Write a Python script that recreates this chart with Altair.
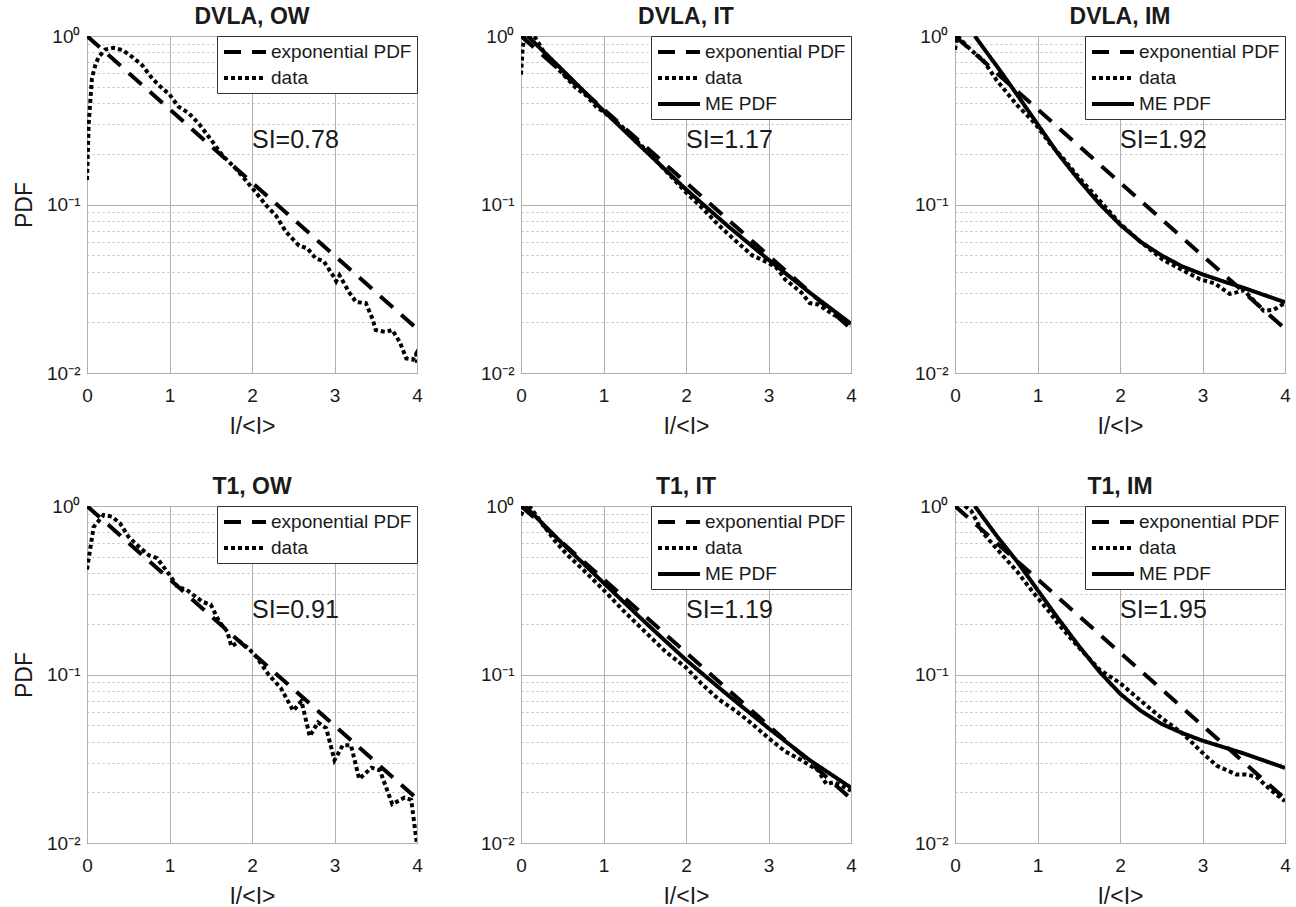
import altair as alt
import pandas as pd

FONT = "Liberation Sans"
EXP, DATA, ME = "exponential PDF", "data", "ME PDF"

# exponential reference curve (same in every panel)
exp_x = [0, 1, 2, 3, 4]
exp_y = [1.0, 0.368, 0.135, 0.0498, 0.0183]

# ---- DVLA, OW ----
dvla_ow_x = [0, 0.02, 0.06, 0.10, 0.14, 0.22, 0.32, 0.43, 0.55, 0.67, 0.79, 0.91, 1.0, 1.11,
             1.23, 1.36, 1.52, 1.64, 1.80, 1.92, 2.04, 2.17, 2.29, 2.41, 2.57, 2.67, 2.77,
             2.87, 2.98, 3.02, 3.06, 3.18, 3.26, 3.38, 3.46, 3.50, 3.62, 3.70, 3.79, 3.87,
             3.95, 3.99, 4.0]
dvla_ow_y = [0.14, 0.30, 0.56, 0.67, 0.75, 0.83, 0.85, 0.826, 0.75, 0.67, 0.56, 0.49, 0.45, 0.38,
             0.35, 0.30, 0.236, 0.196, 0.164, 0.14, 0.119, 0.099, 0.086, 0.069, 0.057, 0.055, 0.048,
             0.046, 0.038, 0.035, 0.038, 0.030, 0.0264, 0.026, 0.021, 0.018, 0.0175, 0.018, 0.0153, 0.0122,
             0.012, 0.013, 0.0115]

# ---- DVLA, IT ----
dvla_it_x = [0, 0.02, 0.04, 0.08, 0.12, 0.16, 0.2, 0.32, 0.5, 0.67, 0.8, 0.91, 1.0, 1.19, 1.4,
             1.6, 1.8, 2.0, 2.2, 2.4, 2.6, 2.8, 3.0, 3.1, 3.2, 3.4, 3.5, 3.6, 3.8, 3.9, 4.0]
dvla_it_y = [0.59, 0.85, 0.97, 1.0, 0.97, 1.0, 0.93, 0.74, 0.60, 0.49, 0.44, 0.38, 0.355, 0.30, 0.24,
             0.19, 0.15, 0.118, 0.095, 0.075, 0.061, 0.050, 0.045, 0.042, 0.036, 0.030, 0.026, 0.0255,
             0.022, 0.021, 0.019]
dvla_it_me_x = [0.08, 0.5, 1.0, 1.5, 2.0, 2.5, 3.0, 3.5, 4.0]
dvla_it_me_y = [1.0, 0.63, 0.36, 0.21, 0.123, 0.075, 0.047, 0.030, 0.0196]

# ---- DVLA, IM ----
dvla_im_x = [0, 0.03, 0.1, 0.2, 0.34, 0.5, 0.63, 0.75, 0.91, 1.0, 1.15, 1.31, 1.5, 1.75, 2.0,
             2.25, 2.52, 2.75, 2.97, 3.15, 3.33, 3.4, 3.5, 3.62, 3.74, 3.86, 3.98, 4.0]
dvla_im_y = [0.83, 1.0, 0.92, 0.82, 0.72, 0.55, 0.46, 0.39, 0.325, 0.29, 0.23, 0.188, 0.145, 0.106,
             0.077, 0.060, 0.047, 0.041, 0.036, 0.034, 0.0295, 0.030, 0.031, 0.027, 0.0234, 0.0237,
             0.0257, 0.026]
dvla_im_me_x = [0.24, 0.4, 0.55, 0.75, 1.0, 1.25, 1.5, 1.75, 2.0, 2.25, 2.5, 2.75, 3.0, 3.25,
                3.5, 3.75, 4.0]
dvla_im_me_y = [1.0, 0.78, 0.62, 0.45, 0.30, 0.20, 0.14, 0.101, 0.076, 0.060, 0.050, 0.043,
                0.0385, 0.035, 0.032, 0.029, 0.0263]

# ---- T1, OW ----
t1_ow_x = [0, 0.08, 0.2, 0.3, 0.4, 0.5, 0.6, 0.75, 0.85, 1.0, 1.1, 1.2, 1.4, 1.5, 1.6, 1.7, 1.75,
           1.85, 1.95, 2.05, 2.2, 2.35, 2.5, 2.6, 2.7, 2.8, 2.9, 3.0, 3.1, 3.2, 3.3, 3.45, 3.55,
           3.7, 3.85, 3.93, 4.0]
t1_ow_y = [0.42, 0.75, 0.885, 0.865, 0.79, 0.66, 0.59, 0.51, 0.49, 0.39, 0.33, 0.32, 0.27, 0.26,
           0.207, 0.18, 0.147, 0.157, 0.144, 0.128, 0.10, 0.083, 0.061, 0.0695, 0.043, 0.052, 0.048,
           0.031, 0.038, 0.038, 0.024, 0.028, 0.027, 0.017, 0.0186, 0.018, 0.0098]

# ---- T1, IT ----
t1_it_x = [0, 0.05, 0.1, 0.2, 0.4, 0.55, 0.75, 1.0, 1.25, 1.5, 1.75, 2.0, 2.2, 2.4, 2.6, 2.8,
           3.0, 3.2, 3.4, 3.6, 3.7, 3.8, 4.0]
t1_it_y = [0.88, 1.0, 1.0, 0.86, 0.63, 0.52, 0.42, 0.318, 0.237, 0.18, 0.137, 0.11, 0.087, 0.071,
           0.061, 0.051, 0.042, 0.035, 0.031, 0.027, 0.0224, 0.023, 0.0204]
t1_it_me_x = [0.05, 0.5, 1.0, 1.5, 2.0, 2.5, 3.0, 3.5, 4.0]
t1_it_me_y = [1.0, 0.60, 0.35, 0.205, 0.122, 0.076, 0.048, 0.031, 0.0213]

# ---- T1, IM ----
t1_im_x = [0.12, 0.2, 0.34, 0.55, 0.75, 0.95, 1.15, 1.25, 1.5, 1.75, 2.0, 2.25, 2.5, 2.75, 2.85,
           2.97, 3.17, 3.41, 3.53, 3.65, 3.81, 3.98, 4.0]
t1_im_y = [1.0, 0.93, 0.69, 0.527, 0.41, 0.306, 0.233, 0.20, 0.145, 0.107, 0.089, 0.070, 0.0554,
           0.045, 0.0405, 0.0354, 0.0288, 0.0255, 0.0255, 0.0248, 0.021, 0.018, 0.0178]
t1_im_me_x = [0.24, 0.5, 0.75, 1.0, 1.25, 1.5, 1.75, 2.0, 2.25, 2.5, 2.75, 3.0, 3.5, 4.0]
t1_im_me_y = [1.0, 0.67, 0.47, 0.318, 0.215, 0.148, 0.104, 0.077, 0.061, 0.051, 0.045, 0.0405,
              0.034, 0.0279]

panel_specs = [
    ("DVLA, OW", "SI=0.78", dvla_ow_x, dvla_ow_y, None, None),
    ("DVLA, IT", "SI=1.17", dvla_it_x, dvla_it_y, dvla_it_me_x, dvla_it_me_y),
    ("DVLA, IM", "SI=1.92", dvla_im_x, dvla_im_y, dvla_im_me_x, dvla_im_me_y),
    ("T1, OW", "SI=0.91", t1_ow_x, t1_ow_y, None, None),
    ("T1, IT", "SI=1.19", t1_it_x, t1_it_y, t1_it_me_x, t1_it_me_y),
    ("T1, IM", "SI=1.95", t1_im_x, t1_im_y, t1_im_me_x, t1_im_me_y),
]

# log-axis tick positions: decades get labels and solid grid, the rest dotted grid
y_ticks = [0.01, 0.02, 0.03, 0.04, 0.05, 0.06, 0.07, 0.08, 0.09,
           0.1, 0.2, 0.3, 0.4, 0.5, 0.6, 0.7, 0.8, 0.9, 1.0]
x_ticks = [0, 1, 2, 3, 4]

DASHES = {EXP: [17, 11], DATA: [4, 3], ME: [1, 0]}
decade_test = "datum.value == 1 || datum.value == 0.1 || datum.value == 0.01"
X_SCALE = alt.Scale(domain=[0, 4], nice=False)
Y_SCALE = alt.Scale(type="log", domain=[0.01, 1], nice=False)


def make_panel(title, si, dx, dy, mx, my, first_col):
    rows = [{"series": EXP, "x": a, "y": b} for a, b in zip(exp_x, exp_y)]
    rows += [{"series": DATA, "x": a, "y": b} for a, b in zip(dx, dy)]
    domain = [EXP, DATA]
    if mx is not None:
        rows += [{"series": ME, "x": a, "y": b} for a, b in zip(mx, my)]
        domain.append(ME)
    df = pd.DataFrame(rows)

    x_axis = alt.Axis(
        values=x_ticks, title="I/<I>", format="d", labelFlush=False,
        labelPadding=13, titlePadding=10, grid=True, gridColor="#b0b0b0",
        gridWidth=1, domain=False, ticks=False,
    )
    y_axis = alt.Axis(
        values=y_ticks, title="PDF" if first_col else None,
        labelExpr="datum.value == 1 ? '10⁰' : datum.value == 0.1 ? '10⁻¹' : datum.value == 0.01 ? '10⁻²' : ''",
        labelOverlap=False, labelPadding=7, titlePadding=10, grid=True,
        gridColor={"condition": {"test": decade_test, "value": "#b0b0b0"}, "value": "#bdbdbd"},
        gridDash={"condition": {"test": decade_test, "value": []}, "value": [2, 3]},
        domain=False, ticks=False,
    )

    lines = alt.Chart(df).mark_line(color="black", strokeWidth=4, clip=True).encode(
        x=alt.X("x:Q", scale=X_SCALE, axis=x_axis),
        y=alt.Y("y:Q", scale=Y_SCALE, axis=y_axis),
        strokeDash=alt.StrokeDash(
            "series:N",
            scale=alt.Scale(domain=domain, range=[DASHES[s] for s in domain]),
            legend=alt.Legend(
                title=None, orient="top-right", offset=0, fillColor="white",
                strokeColor="#333333", padding=5, symbolType="M-1,0H3.67", symbolSize=324,
                symbolStrokeWidth=4, labelFont=FONT, labelFontSize=19, labelColor="#1a1a1a",
                labelOffset=27, rowPadding=5, labelLimit=300,
            ),
        ),
    )

    si_text = alt.Chart(pd.DataFrame({"label": [si]})).mark_text(
        align="left", baseline="middle", font=FONT, fontSize=25, color="#1a1a1a"
    ).encode(
        x=alt.X(datum=2.0, scale=X_SCALE),
        y=alt.Y(datum=0.24, scale=Y_SCALE),
        text="label:N",
    )

    return alt.layer(lines, si_text).properties(
        width=330, height=337,
        title=alt.TitleParams(title, font=FONT, fontSize=23, fontWeight="bold",
                              color="#1a1a1a", offset=-2),
    )


panels = [make_panel(*spec, first_col=(i % 3 == 0)) for i, spec in enumerate(panel_specs)]

chart = alt.concat(
    *panels, columns=3, spacing={"row": 133, "column": 104}, bounds="flush"
).resolve_scale(
    strokeDash="independent"
).resolve_legend(
    strokeDash="independent"
).configure_axis(
    labelFont=FONT, labelFontSize=19, labelColor="#1a1a1a",
    titleFont=FONT, titleFontSize=23, titleFontWeight="normal", titleColor="#1a1a1a",
).configure_view(
    stroke="#2b2b2b", strokeWidth=1
).properties(
    background="white", padding={"left": 13, "top": 5, "right": 5, "bottom": 5}
)

chart.save("out.html", embed_options={"renderer": "svg", "actions": False})
